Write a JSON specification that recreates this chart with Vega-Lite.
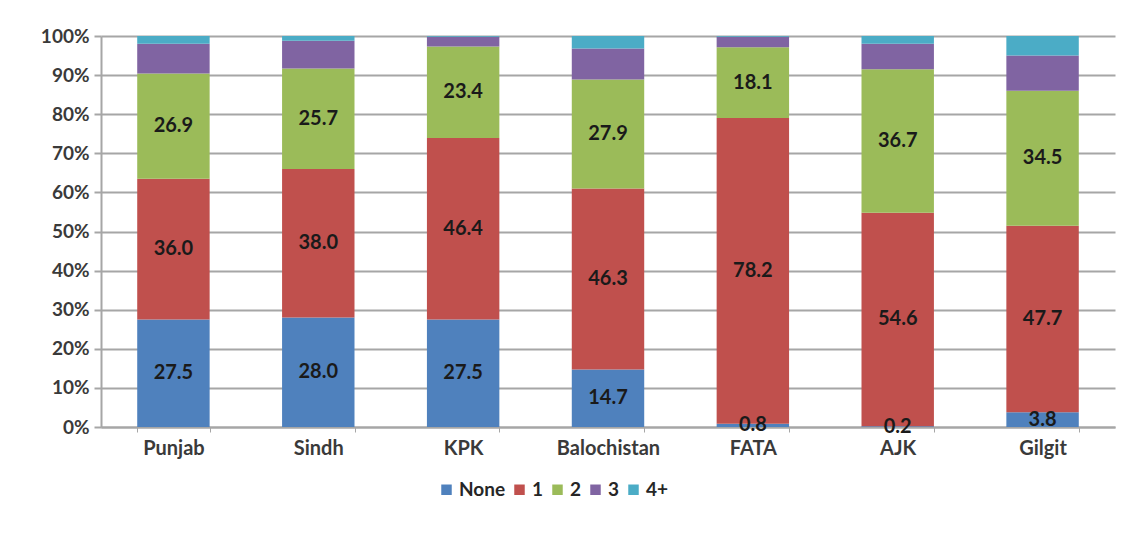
{
  "$schema": "https://vega.github.io/schema/vega-lite/v6.json",
  "width": 1014,
  "height": 391,
  "autosize": {"type": "none"},
  "padding": {"left": 101, "top": 36, "right": 17, "bottom": 129},
  "background": "white",
  "data": {
    "values": [
      {"region": "Punjab", "cat": "None", "ord": 0, "value": 27.5},
      {"region": "Punjab", "cat": "1", "ord": 1, "value": 36.0},
      {"region": "Punjab", "cat": "2", "ord": 2, "value": 26.9},
      {"region": "Punjab", "cat": "3", "ord": 3, "value": 7.6},
      {"region": "Punjab", "cat": "4+", "ord": 4, "value": 2.0},
      {"region": "Sindh", "cat": "None", "ord": 0, "value": 28.0},
      {"region": "Sindh", "cat": "1", "ord": 1, "value": 38.0},
      {"region": "Sindh", "cat": "2", "ord": 2, "value": 25.7},
      {"region": "Sindh", "cat": "3", "ord": 3, "value": 7.1},
      {"region": "Sindh", "cat": "4+", "ord": 4, "value": 1.2},
      {"region": "KPK", "cat": "None", "ord": 0, "value": 27.5},
      {"region": "KPK", "cat": "1", "ord": 1, "value": 46.4},
      {"region": "KPK", "cat": "2", "ord": 2, "value": 23.4},
      {"region": "KPK", "cat": "3", "ord": 3, "value": 2.5},
      {"region": "KPK", "cat": "4+", "ord": 4, "value": 0.2},
      {"region": "Balochistan", "cat": "None", "ord": 0, "value": 14.7},
      {"region": "Balochistan", "cat": "1", "ord": 1, "value": 46.3},
      {"region": "Balochistan", "cat": "2", "ord": 2, "value": 27.9},
      {"region": "Balochistan", "cat": "3", "ord": 3, "value": 7.9},
      {"region": "Balochistan", "cat": "4+", "ord": 4, "value": 3.2},
      {"region": "FATA", "cat": "None", "ord": 0, "value": 0.8},
      {"region": "FATA", "cat": "1", "ord": 1, "value": 78.2},
      {"region": "FATA", "cat": "2", "ord": 2, "value": 18.1},
      {"region": "FATA", "cat": "3", "ord": 3, "value": 2.7},
      {"region": "FATA", "cat": "4+", "ord": 4, "value": 0.2},
      {"region": "AJK", "cat": "None", "ord": 0, "value": 0.2},
      {"region": "AJK", "cat": "1", "ord": 1, "value": 54.6},
      {"region": "AJK", "cat": "2", "ord": 2, "value": 36.7},
      {"region": "AJK", "cat": "3", "ord": 3, "value": 6.5},
      {"region": "AJK", "cat": "4+", "ord": 4, "value": 2.0},
      {"region": "Gilgit", "cat": "None", "ord": 0, "value": 3.8},
      {"region": "Gilgit", "cat": "1", "ord": 1, "value": 47.7},
      {"region": "Gilgit", "cat": "2", "ord": 2, "value": 34.5},
      {"region": "Gilgit", "cat": "3", "ord": 3, "value": 9.0},
      {"region": "Gilgit", "cat": "4+", "ord": 4, "value": 5.0}
    ]
  },
  "transform": [
    {"stack": "value", "groupby": ["region"], "sort": [{"field": "ord", "order": "ascending"}], "as": ["y0", "y1"]},
    {"calculate": "(datum.y0 + datum.y1) / 2", "as": "ymid"}
  ],
  "encoding": {
    "x": {
      "field": "region",
      "type": "nominal",
      "sort": ["Punjab", "Sindh", "KPK", "Balochistan", "FATA", "AJK", "Gilgit"],
      "scale": {"paddingInner": 0.5, "paddingOuter": 0.25},
      "axis": {
        "title": null,
        "labelAngle": 0,
        "labelFont": "Lato",
        "labelFontSize": 20,
        "labelFontWeight": "bold",
        "labelColor": "#3a3a3a",
        "labelPadding": 6,
        "tickBand": "extent",
        "tickSize": 5,
        "tickColor": "#a6a6a6",
        "domainColor": "#a6a6a6",
        "domainWidth": 2,
        "grid": false
      }
    }
  },
  "layer": [
    {
      "mark": {"type": "bar", "stroke": null},
      "encoding": {
        "y": {
          "field": "y0",
          "type": "quantitative",
          "scale": {"domain": [0, 100], "nice": false},
          "axis": {
            "title": null,
            "values": [0, 10, 20, 30, 40, 50, 60, 70, 80, 90, 100],
            "tickCount": 11,
            "labelExpr": "datum.value + '%'",
            "labelOverlap": false,
            "labelFont": "Lato",
            "labelFontSize": 19,
            "labelFontWeight": "bold",
            "labelColor": "#3a3a3a",
            "labelPadding": 5,
            "tickSize": 7,
            "tickColor": "#a6a6a6",
            "tickWidth": 2,
            "domainColor": "#a6a6a6",
            "domainWidth": 2,
            "grid": true,
            "gridColor": "#a6a6a6",
            "gridWidth": 2
          }
        },
        "y2": {"field": "y1"},
        "color": {
          "field": "cat",
          "type": "nominal",
          "sort": ["None", "1", "2", "3", "4+"],
          "scale": {
            "domain": ["None", "1", "2", "3", "4+"],
            "range": ["#4F81BD", "#C0504D", "#9BBB59", "#8064A2", "#4BACC6"]
          },
          "legend": {
            "title": null,
            "orient": "none",
            "legendX": 336,
            "legendY": 444,
            "direction": "horizontal",
            "symbolType": "square",
            "symbolSize": 110,
            "symbolStrokeWidth": 0,
            "labelFont": "Lato",
            "labelFontSize": 19,
            "labelFontWeight": "bold",
            "labelColor": "#262626",
            "columnPadding": 4,
            "labelOffset": 3
          }
        }
      }
    },
    {
      "transform": [{"filter": "datum.ord <= 2"}],
      "mark": {"type": "text", "font": "Lato", "fontSize": 20, "fontWeight": "bold", "color": "#1a1a1a", "baseline": "middle"},
      "encoding": {
        "y": {
          "field": "ymid",
          "type": "quantitative",
          "axis": {
            "title": null,
            "values": [0, 10, 20, 30, 40, 50, 60, 70, 80, 90, 100],
            "tickCount": 11,
            "labelExpr": "datum.value + '%'",
            "labelOverlap": false,
            "labelFont": "Lato",
            "labelFontSize": 19,
            "labelFontWeight": "bold",
            "labelColor": "#3a3a3a",
            "labelPadding": 5,
            "tickSize": 7,
            "tickColor": "#a6a6a6",
            "tickWidth": 2,
            "domainColor": "#a6a6a6",
            "domainWidth": 2,
            "grid": true,
            "gridColor": "#a6a6a6",
            "gridWidth": 2
          }
        },
        "text": {"field": "value", "type": "quantitative", "format": ".1f"}
      }
    }
  ],
  "config": {"view": {"stroke": null}}
}
